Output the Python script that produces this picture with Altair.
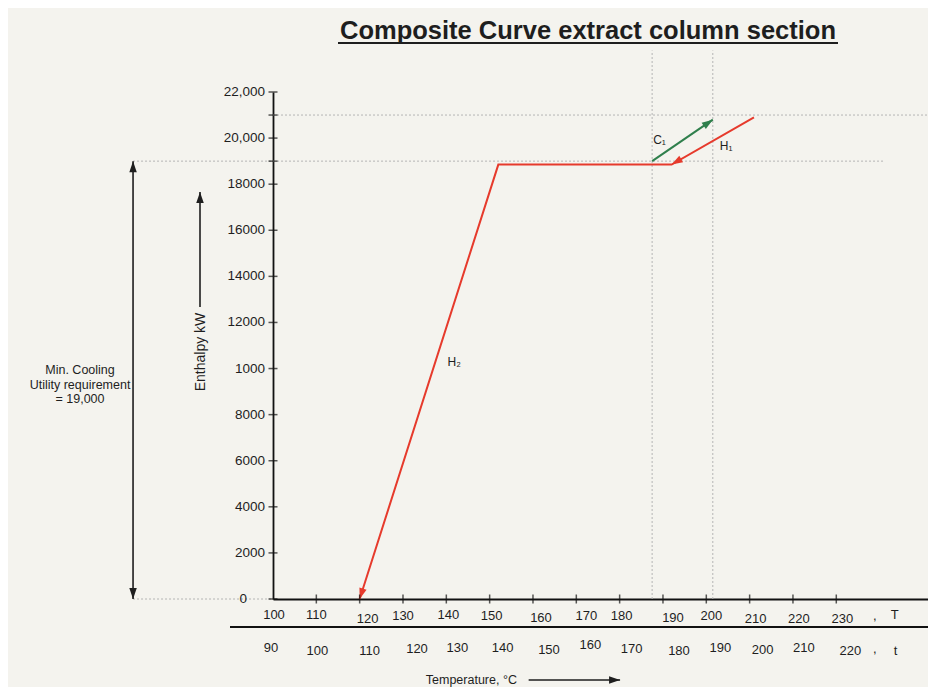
import math
import altair as alt
import pandas as pd

# ---------------- data ----------------
# Hot composite curve (red), in drawing order: H1 -> flat part -> H2
hot_T = [211, 192, 152, 120]
hot_H = [20900, 18850, 18850, 0]
# Cold stream C1 (green)
cold_T = [187.5, 201.5]
cold_H = [19000, 20800]

stream_names = ["H₂", "C₁", "H₁"]
stream_name_T = [141.8, 189.2, 204.6]
stream_name_H = [10300, 19900, 19650]

# enthalpy axis: tick values and the labels as printed
y_tick_values = [0, 2000, 4000, 6000, 8000, 10000, 12000, 14000, 16000, 18000, 20000, 22000]
y_tick_labels = ["0", "2000", "4000", "6000", "8000", "1000", "12000",
                 "14000", "16000", "18000", "20,000", "22,000"]
y_minor_ticks = [19000, 21000]

# temperature axis: hot temperatures T and shifted cold temperatures t
T_tick_values = [100, 110, 120, 130, 140, 150, 160, 170, 180, 190, 200, 210, 220, 230]
T_row_labels = ["100", "110", "120", "130", "140", "150", "160",
                "170", "180", "190", "200", "210", "220", "230"]
t_row_labels = ["90", "100", "110", "120", "130", "140", "150",
                "160", "170", "180", "190", "200", "210", "220"]

# dotted construction lines
ref_h_H = [21000, 19000, 0]
ref_h_from = [100, 67.7, 67.7]
ref_h_to = [253, 240.8, 100]
ref_v_T = [187.5, 201.5]
ref_v_top = 23800

# min. cooling utility
utility_H = 19000
utility_T = 67.7

# ---------------- layout / style ----------------
W, H = 655, 507
PX_PER_C = 4.333
X_MIN = 100
X_MAX = X_MIN + W / PX_PER_C
Y_MAX = 22000
PY = H / Y_MAX

FONT = "Liberation Sans"
RED = "#e63a2c"
GREEN = "#2f7f4c"
INK = "#1e1e1e"
GRID = "#b4b4b4"
BG = "#f4f3ee"

# hand-placement nudges of the printed tick labels (pixels)
T_row_dx = [1, 0, 8, 0, 2, 2, 8, 10, 2, 10, 5, 6, 6, 6]
T_row_dy = [-1.5, -1.5, 2.5, 0, -1.5, 0, 1.5, 0, 0, 1.5, 0, 2.5, 3, 3]
t_row_dx = [-2, 1, 10, 14, 11, 13, 16, 14, 12, 16, 14, 13, 11, 14]
t_row_dy = [-1.5, 2, 2, 0, -1.5, -1.5, 1, -4, 0, 1.5, -1, 1, -1.5, 2]
T_ROW_Y = 17     # px below the T axis line
t_ROW_Y = 50

xs = alt.Scale(domain=[X_MIN, X_MAX], nice=False, zero=False)
ys = alt.Scale(domain=[0, Y_MAX], nice=False, zero=False)
x_axis = alt.Axis(domain=True, domainColor="#111", domainWidth=1.8, ticks=False,
                  labels=False, grid=False, title=None)
y_axis = alt.Axis(domain=True, domainColor="#111", domainWidth=1.8, ticks=False,
                  labels=False, grid=False, title="Enthalpy kW", titleFont=FONT,
                  titleFontSize=14, titleFontWeight="normal", titleColor=INK,
                  titleX=-66, titleY=H / 2 + 6)


def X(f):
    return alt.X(f, type="quantitative", scale=xs, axis=x_axis)


def Y(f):
    return alt.Y(f, type="quantitative", scale=ys, axis=y_axis)


def px_to_T(dx):
    return dx / PX_PER_C


def px_to_H(dy):
    return -dy / PY


def head_angle(t0, h0, t1, h1):
    dx = (t1 - t0) * PX_PER_C
    dy = -(h1 - h0) * PY
    return (math.degrees(math.atan2(dx, -dy)) + 360) % 360


# ---------------- frames ----------------
hot_df = pd.DataFrame({"T": hot_T, "H": hot_H, "ord": range(len(hot_T))})
cold_df = pd.DataFrame({"T": cold_T, "H": cold_H, "ord": range(len(cold_T))})

href_df = pd.DataFrame({"T": ref_h_from, "T2": ref_h_to, "H": ref_h_H})
vref_df = pd.DataFrame({"T": ref_v_T, "H": [0] * len(ref_v_T), "H2": [ref_v_top] * len(ref_v_T)})

# annotation arrows (black)
ent_T = X_MIN + px_to_T(-73)
ent_H0, ent_H1 = 12670, 17660
temp_H = px_to_H(81)
temp_T0, temp_T1 = 159.0, 180.1
arrows_df = pd.DataFrame({
    "T": [utility_T, ent_T, temp_T0],
    "T2": [utility_T, ent_T, temp_T1],
    "H": [0, ent_H0, temp_H],
    "H2": [utility_H, ent_H1, temp_H],
})

heads = [
    (hot_T[1], hot_H[1], hot_T[0], hot_H[0], RED),
    (hot_T[3], hot_H[3], hot_T[2], hot_H[2], RED),
    (cold_T[1], cold_H[1], cold_T[0], cold_H[0], GREEN),
    (utility_T, utility_H, utility_T, 0, INK),
    (utility_T, 0, utility_T, utility_H, INK),
    (ent_T, ent_H1, ent_T, ent_H0, INK),
    (temp_T1, temp_H, temp_T0, temp_H, INK),
]
heads_df = pd.DataFrame({
    "T": [h[0] for h in heads],
    "H": [h[1] for h in heads],
    "angle": [head_angle(h[2], h[3], h[0], h[1]) for h in heads],
    "color": [h[4] for h in heads],
})

ytick_df = pd.DataFrame({"T": [X_MIN] * (len(y_tick_values) + len(y_minor_ticks)),
                         "H": y_tick_values + y_minor_ticks})
xtick_df = pd.DataFrame({"T": T_tick_values[1:], "H": [0] * (len(T_tick_values) - 1)})

ylab_df = pd.DataFrame({
    "T": [X_MIN + px_to_T(-8 - (18 if v == 0 else 0)) for v in y_tick_values],
    "H": y_tick_values, "label": y_tick_labels})

T_row_df = pd.DataFrame({
    "T": [v + px_to_T(d) for v, d in zip(T_tick_values, T_row_dx)],
    "H": [px_to_H(T_ROW_Y + d) for d in T_row_dy],
    "label": T_row_labels})
t_row_df = pd.DataFrame({
    "T": [v + px_to_T(d) for v, d in zip(T_tick_values, t_row_dx)],
    "H": [px_to_H(t_ROW_Y + d) for d in t_row_dy],
    "label": t_row_labels})
row_end_df = pd.DataFrame({
    "T": [238.9, 243.5, 238.9, 243.7],
    "H": [px_to_H(T_ROW_Y), px_to_H(T_ROW_Y - 1), px_to_H(t_ROW_Y), px_to_H(t_ROW_Y + 2)],
    "label": [",", "T", ",", "t"]})

names_df = pd.DataFrame({"T": stream_name_T, "H": stream_name_H, "label": stream_names})

misc_df = pd.DataFrame({
    "T": [X_MIN + px_to_T(-193), 156.3],
    "H": [px_to_H(370 - 599), temp_H],
    "label": [["Min. Cooling", "Utility requirement", "= 19,000"], "Temperature, °C"],
    "align": ["center", "right"],
})

# ---------------- layers ----------------
dash_h = alt.Chart(href_df).mark_rule(color=GRID, strokeWidth=1, strokeDash=[2, 2]).encode(
    x=X("T"), x2="T2", y=Y("H"))
dash_v = alt.Chart(vref_df).mark_rule(color=GRID, strokeWidth=1, strokeDash=[2, 2]).encode(
    x=X("T"), y=Y("H"), y2="H2")

hot = alt.Chart(hot_df).mark_line(color=RED, strokeWidth=2).encode(
    x=X("T"), y=Y("H"), order="ord")
cold = alt.Chart(cold_df).mark_line(color=GREEN, strokeWidth=2).encode(
    x=X("T"), y=Y("H"), order="ord")

arrows = alt.Chart(arrows_df).mark_rule(color=INK, strokeWidth=1.6).encode(
    x=X("T"), x2="T2", y=Y("H"), y2="H2")

heads_layer = alt.Chart(heads_df).mark_point(
    shape="M0,0 L0.75,2.2 L-0.75,2.2 Z", filled=True, size=100, opacity=1, strokeWidth=0
).encode(x=X("T"), y=Y("H"), angle=alt.Angle("angle:Q", scale=None),
         color=alt.Color("color:N", scale=None))

yticks = alt.Chart(ytick_df).mark_tick(orient="horizontal", size=9, thickness=1.5, color="#111").encode(
    x=X("T"), y=Y("H"))
xticks = alt.Chart(xtick_df).mark_tick(orient="vertical", size=9, thickness=1.5, color="#111").encode(
    x=X("T"), y=Y("H"))


def text_layer(df, **kw):
    base = dict(font=FONT, fontSize=13, color=INK, baseline="middle")
    base.update(kw)
    return alt.Chart(df).mark_text(**base).encode(x=X("T"), y=Y("H"), text="label")


ylabs = text_layer(ylab_df, align="right", fontSize=13.5)
T_row = text_layer(T_row_df, align="center")
t_row = text_layer(t_row_df, align="center")
row_end = text_layer(row_end_df, align="center")
names = text_layer(names_df, align="center", fontSize=12)
misc_a = text_layer(misc_df[misc_df["align"] == "center"], align="center", lineHeight=14.5,
                    fontSize=12.5)
misc_b = text_layer(misc_df[misc_df["align"] == "right"], align="right", fontSize=12.5)

divider = alt.Chart(pd.DataFrame({"k": [0]})).mark_rule(color="#111", strokeWidth=1.8).encode(
    x=alt.value(-43), x2=alt.value(W), y=alt.value(H + 28))

title = alt.Chart(pd.DataFrame({"label": ["Composite Curve extract column section"]})).mark_text(
    font=FONT, fontSize=25.5, fontWeight="bold", color=INK, align="center", baseline="alphabetic"
).encode(x=alt.value(315), y=alt.value(-53), text="label")
underline = alt.Chart(pd.DataFrame({"k": [0]})).mark_rule(color=INK, strokeWidth=2).encode(
    x=alt.value(65), x2=alt.value(565), y=alt.value(-49))

chart = alt.layer(
    dash_h, dash_v, hot, cold, arrows, heads_layer, yticks, xticks,
    ylabs, T_row, t_row, row_end, names, misc_a, misc_b, divider, title, underline
).properties(
    width=W, height=H,
    padding={"left": 265, "top": 84, "right": 0, "bottom": 88},
    autosize=alt.AutoSizeParams(type="none"),
    background=BG,
).configure_view(stroke=None)

chart.save("out.html", embed_options={"renderer": "svg", "actions": False})
